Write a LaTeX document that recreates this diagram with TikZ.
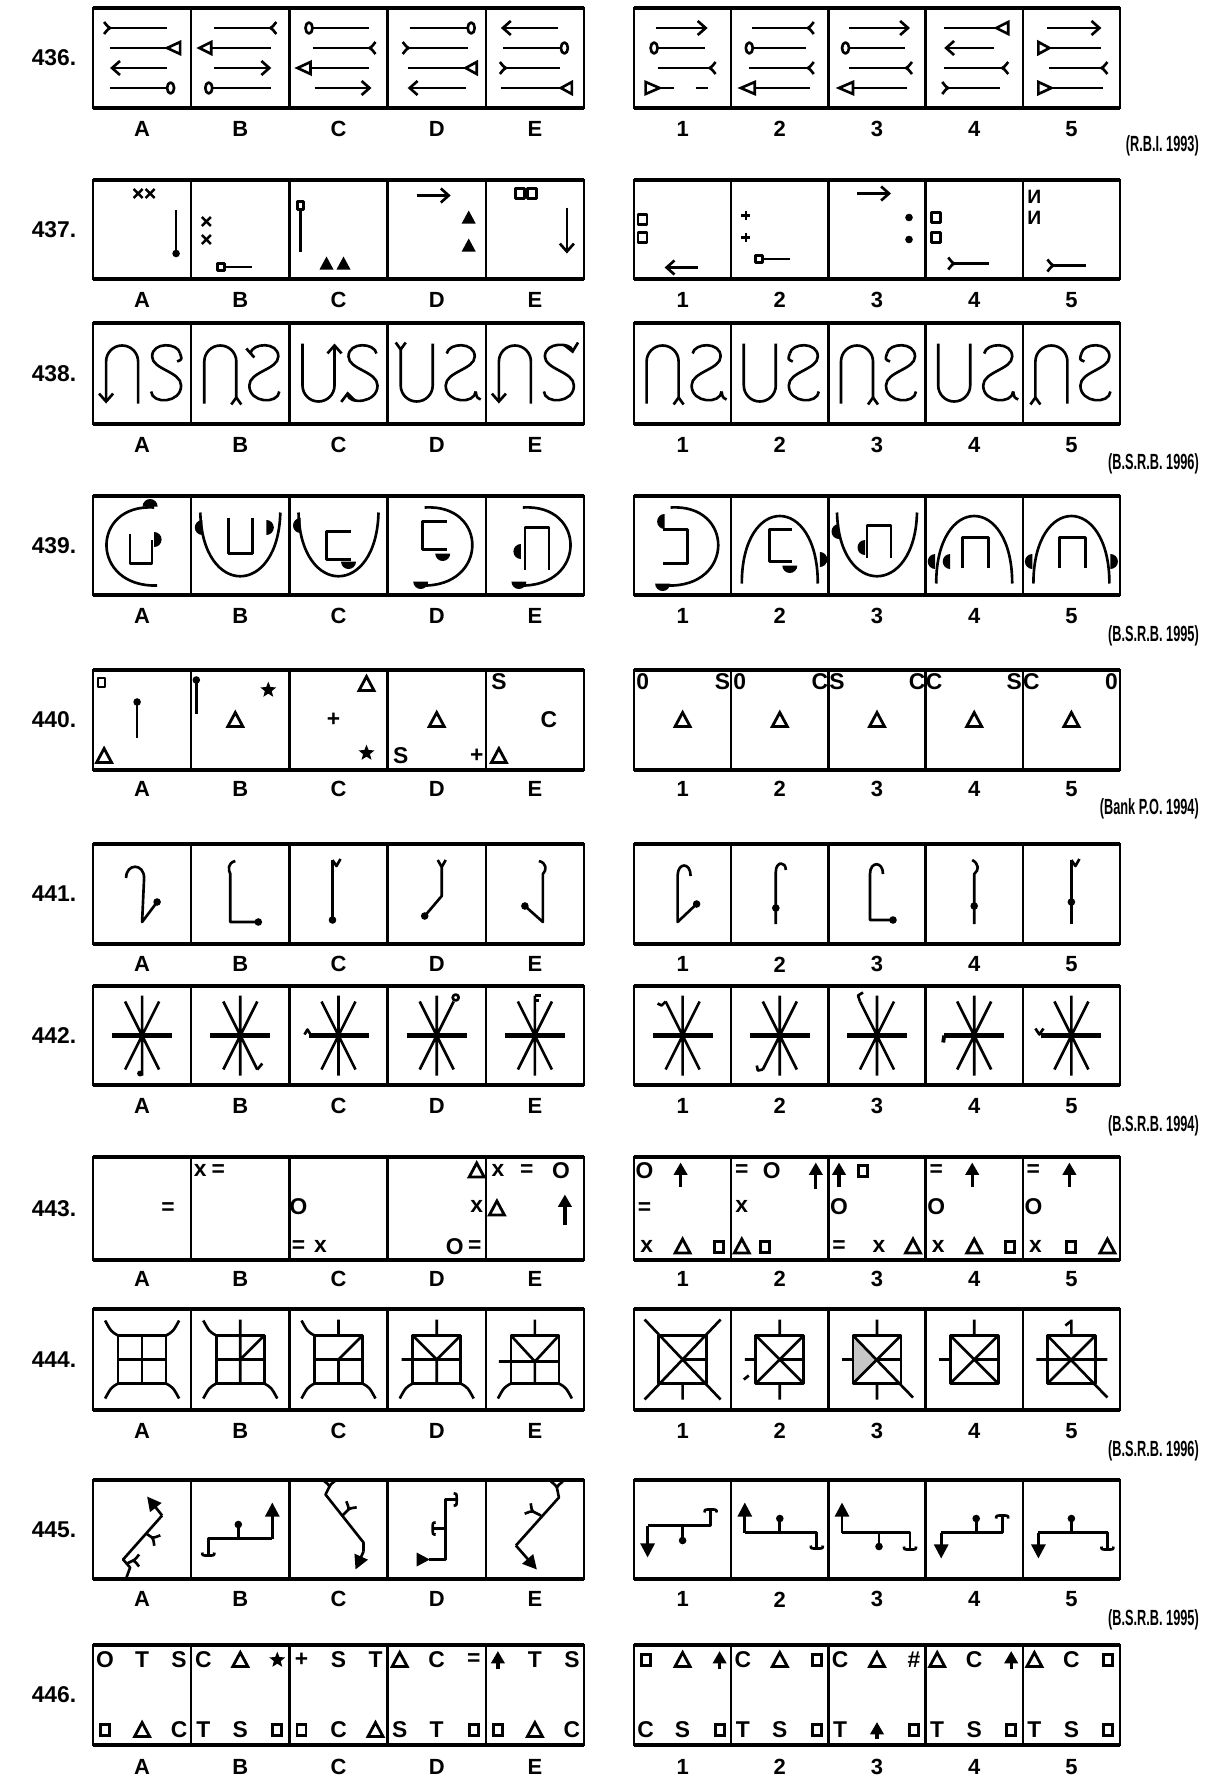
\documentclass[tikz,border=0pt]{standalone}
\usepackage{fontspec}
\setmainfont{Liberation Sans}
\usetikzlibrary{arrows.meta,shapes.geometric}
\newcounter{qn}
\def\qxA{142.1}\def\qxB{240.3}\def\qxC{338.5}\def\qxD{436.7}\def\qxE{534.9}
\def\qxa{682.6}\def\qxb{779.8}\def\qxc{877}\def\qxd{974.2}\def\qxe{1071.4}
\tikzset{
 fig/.style={line width=1.5pt,line join=round},
 frm/.style={line width=1.3pt},
 heavy/.style={line width=2.6pt},
 lab/.style={font=\fontsize{12.5}{14}\selectfont\bfseries,inner sep=0pt},
 num/.style={font=\fontsize{13}{15}\selectfont\bfseries,inner sep=0pt},
 src/.style={font=\fontsize{12.5}{14}\selectfont\bfseries,anchor=east,inner sep=0pt,xscale=0.58},
 txt/.style={font=\fontsize{13}{15}\selectfont\bfseries,inner sep=0pt},
 ar/.style={-{Straight Barb[length=4.5pt,width=8pt]}},
 far/.style={-{Triangle[length=8pt,width=8pt]}},
}
\newcommand\qcell[3]{\begin{scope}[shift={(#1,#2)}]#3\end{scope}}
\newcommand\qfk[3]{\draw[fig,shift={(#1,#2)},rotate=#3] (6,-6) .. controls (2,-1) .. (0,0) .. controls (2,1) .. (6,6);}
\newcommand\qcap[3]{\draw[fig,shift={(#1,#2)},rotate=#3] (-3,-6) .. controls (0,-6) .. (0,0) .. controls (0,6) .. (-3,6);}
\newcommand\qtrih[3]{\draw[fig,line join=miter] (#1,#2) -- ({#1+#3},{#2-6}) -- ({#1+#3},{#2+6}) -- cycle;}
\newcommand\qov[2]{\draw[fig] (#1,#2) ellipse [x radius=3.5,y radius=5.5];}
\newcommand\qcrs[2]{\draw[fig,line width=1.4pt] ({#1-4.5},{#2-4.5})--({#1+4.5},{#2+4.5}) ({#1-4.5},{#2+4.5})--({#1+4.5},{#2-4.5});}
\newcommand\qdot[2]{\fill (#1,#2) circle[radius=3.8];}
\newcommand\qftri[2]{\fill (#1,{#2-7}) -- ({#1+7},{#2+6}) -- ({#1-7},{#2+6}) -- cycle;}
\newcommand\qosq[2]{\draw[fig] ({#1-4.5},{#2-5}) rectangle ({#1+4.5},{#2+5});}
\newcommand\qsq[2]{\draw[line width=1.7pt] ({#1-4.5},{#2-5.5}) rectangle ({#1+4.5},{#2+5.5});}
\newcommand\qpls[2]{\draw[fig,line width=1.4pt] ({#1-4.5},#2)--({#1+4.5},#2) (#1,{#2-4.5})--(#1,{#2+4.5});}
\newcommand\qotri[2]{\draw[fig,line width=1.6pt,line join=miter] (#1,{#2-7.5}) -- ({#1+7.5},{#2+6.5}) -- ({#1-7.5},{#2+6.5}) -- cycle;}
\newcommand\qup[3]{\draw[line width=1.9pt,-{Triangle[length=7pt,width=7.5pt]}] (#1,#3)--(#1,#2);}
\newcommand\qtx[3]{\stepcounter{qn}\node[txt] (q\arabic{qn}) at (#1,#2) {#3};}
\newcommand\qstar[2]{\stepcounter{qn}\node[star,star points=5,star point ratio=2.3,fill,inner sep=0pt,minimum size=9.5pt] (q\arabic{qn}) at (#1,#2) {};}
\newcommand\qhd[3]{\fill[shift={(#1,#2)},rotate=#3] (0,-7.5) arc[start angle=-90,end angle=90,radius=7.5] -- cycle;}
\newcommand\qast{\draw[fig,line width=2.5pt] (-30,0)--(30,0); \draw[fig] (0,-40)--(0,40) (-17,-34)--(17,34) (17,-34)--(-17,34); \fill (0,0) circle[radius=3];}
\newcommand\qsp[2]{\draw[fig] ({24*#1},{24*#2}) .. controls ({31*#1},{28*#2}) .. ({37*#1},{39*#2});}
\newcommand\qbox{\draw[fig] (-24,-24) rectangle (24,24);}
\newcommand\qrow[4]{%
 \draw[frm] (93,#2) rectangle (584,#3);
 \draw[frm] (634,#2) rectangle (1120,#3);
 \draw[heavy] (93,#2)--(584,#2) (93,#3)--(584,#3) (634,#2)--(1120,#2) (634,#3)--(1120,#3);
 \foreach \qx in {191.2,289.4,387.6,485.8,731.2,828.4,925.6,1022.8} \draw[frm] (\qx,#2)--(\qx,#3);
 \node[num] (n#1) at (54,{(#2+#3)/2}) {#1.};
 \foreach \qt/\qx in {A/142.1,B/240.3,C/338.5,D/436.7,E/534.9,1/682.6,2/779.8,3/877,4/974.2,5/1071.4} \node[lab] (l#1\qt) at (\qx,#4) {\qt};
}
\def\qS{(38,-20) .. controls (36,-31) and (10,-32) .. (10,-17) .. controls (10,-4) and (39,-2) .. (39,12) .. controls (39,30) and (10,31) .. (9,18)}
\def\qZ{(10,-20) .. controls (12,-31) and (38,-32) .. (38,-17) .. controls (38,-4) and (9,-2) .. (9,12) .. controls (9,30) and (38,31) .. (39,18)}
\def\qcL{(12,-38) .. controls (-52,-42) and (-52,42) .. (15,40)}
\def\qcR{(-12,-38) .. controls (52,-42) and (52,42) .. (-15,40)}
\def\qcU{(-40,-33) .. controls (-38,52) and (38,52) .. (40,-33)}
\def\qcN{(-38,38) .. controls (-38,-52) and (38,-52) .. (38,38)}
\begin{document}
\begin{tikzpicture}[x=0.02cm,y=-0.02cm]
\fill[white] (0,0) rectangle (1205,1788);
\useasboundingbox (0,0) rectangle (1205,1788);
% ---------- rows frames ----------
\qrow{436}{8}{108}{128.8}
\qrow{437}{180}{279}{299.8}
\qrow{438}{323}{424}{444.6}
\qrow{439}{496}{595}{615.6}
\qrow{440}{670}{770}{788.9}
\qrow{441}{844}{944}{964.4}
\qrow{442}{986}{1085}{1105.8}
\qrow{443}{1157}{1260}{1279}
\qrow{444}{1309}{1410}{1430.7}
\qrow{445}{1480}{1579}{1599.4}
\qrow{446}{1645}{1745}{1767}
\node[src] (s436) at (1199,146) {(R.B.I. 1993)};
\node[src] (s438) at (1199,464) {(B.S.R.B. 1996)};
\node[src] (s439) at (1199,636) {(B.S.R.B. 1995)};
\node[src] (s440) at (1199,809) {(Bank P.O. 1994)};
\node[src] (s442) at (1199,1126) {(B.S.R.B. 1994)};
\node[src] (s444) at (1199,1451) {(B.S.R.B. 1996)};
\node[src] (s445) at (1199,1620) {(B.S.R.B. 1995)};
% ---------- 436 ----------
\qcell{\qxA}{58}{
 \draw[fig] (-32,-30)--(25,-30); \qfk{-32}{-30}{180}
 \draw[fig] (-32,-10)--(25,-10); \qtrih{25}{-10}{13}
 \draw[fig,ar] (25,10)--(-32,10);
 \draw[fig] (-32,30)--(25,30); \qov{28.5}{30}}
\qcell{\qxB}{58}{
 \draw[fig] (-26,-30)--(30,-30); \qfk{30}{-30}{0}
 \qtrih{-41}{-10}{12} \draw[fig] (-29,-10)--(31,-10);
 \draw[fig,ar] (-26,10)--(31,10);
 \qov{-31.5}{30} \draw[fig] (-28,30)--(31,30);}
\qcell{\qxC}{58}{
 \qov{-29.5}{-30} \draw[fig] (-26,-30)--(30,-30);
 \draw[fig] (-26,-10)--(31,-10); \qfk{31}{-10}{0}
 \qtrih{-41}{10}{13} \draw[fig] (-28,10)--(30,10);
 \draw[fig,ar] (-24,30)--(33,30);}
\qcell{\qxD}{58}{
 \draw[fig] (-27,-30)--(31,-30); \qov{34.5}{-30}
 \qfk{-28}{-10}{180} \draw[fig] (-28,-10)--(31,-10);
 \draw[fig] (-29,10)--(29,10); \qtrih{29}{10}{11}
 \draw[fig,ar] (29,30)--(-29,30);}
\qcell{\qxE}{58}{
 \draw[fig,ar] (23,-30)--(-34,-30);
 \draw[fig] (-32,-10)--(26,-10); \qov{29.5}{-10}
 \qfk{-29}{10}{180} \draw[fig] (-29,10)--(25,10);
 \draw[fig] (-34,30)--(26,30); \qtrih{26}{30}{11}}
\qcell{\qxa}{58}{
 \draw[fig,ar] (-27,-30)--(25,-30);
 \qov{-28.5}{-10} \draw[fig] (-25,-10)--(22,-10);
 \draw[fig] (-25,10)--(27,10); \qfk{27}{10}{0}
 \qtrih{-23}{30}{-14} \draw[fig] (-23,30)--(-9,30) (13,30)--(25,30);}
\qcell{\qxb}{58}{
 \draw[fig] (-28,-30)--(28,-30); \qfk{28}{-30}{0}
 \qov{-30.5}{-10} \draw[fig] (-27,-10)--(26,-10);
 \draw[fig] (-31,10)--(28,10); \qfk{28}{10}{0}
 \qtrih{-39}{30}{14} \draw[fig] (-25,30)--(30,30);}
\qcell{\qxc}{58}{
 \draw[fig,ar] (-28,-30)--(33,-30);
 \qov{-31.5}{-10} \draw[fig] (-28,-10)--(28,-10);
 \draw[fig] (-28,10)--(29,10); \qfk{29}{10}{0}
 \qtrih{-38}{30}{14} \draw[fig] (-24,30)--(30,30);}
\qcell{\qxd}{58}{
 \draw[fig] (-30,-30)--(22,-30); \qtrih{22}{-30}{12}
 \draw[fig,ar] (20,-10)--(-30,-10);
 \draw[fig] (-30,10)--(28,10); \qfk{28}{10}{0}
 \qfk{-26}{30}{180} \draw[fig] (-26,30)--(26,30);}
\qcell{\qxe}{58}{
 \draw[fig,ar] (-24,-30)--(30,-30);
 \qtrih{-22}{-10}{-11} \draw[fig] (-22,-10)--(30,-10);
 \draw[fig] (-22,10)--(30,10); \qfk{30}{10}{0}
 \qtrih{-20}{30}{-13} \draw[fig] (-20,30)--(32,30);}
% ---------- 437 ----------
\qcell{\qxA}{229.5}{\qcrs{-4}{-36}\qcrs{8}{-36}\draw[fig] (34,-20)--(34,22);\qdot{34}{24}}
\qcell{\qxB}{229.5}{\qcrs{-34}{-8}\qcrs{-34}{10}\draw[fig] (-23,34) rectangle (-16,41);\draw[fig] (-16,37.5)--(12,37.5);}
\qcell{\qxC}{229.5}{\draw[fig] (-41,-28) rectangle (-35,-20);\draw[fig] (-38,-20)--(-38,22);\qftri{-12}{34}\qftri{5}{34}}
\qcell{\qxD}{229.5}{\draw[fig,ar] (-20,-34)--(14,-34);\qftri{32}{-12}\qftri{32}{16}}
\qcell{\qxE}{229.5}{\qosq{-15}{-36}\qosq{-3}{-36}\draw[fig,ar] (32,-22)--(32,24);}
\qcell{\qxa}{229.5}{\qosq{-40}{-10}\qosq{-40}{8}\draw[fig,ar] (15,38)--(-18,38);}
\qcell{\qxb}{229.5}{\qpls{-34}{-14}\qpls{-34}{8}\draw[fig] (-24,26) rectangle (-17,33);\draw[fig] (-17,29.5)--(10,29.5);}
\qcell{\qxc}{229.5}{\draw[fig,ar] (-20,-36)--(14,-36);\qdot{32}{-12}\qdot{32}{10}}
\qcell{\qxd}{229.5}{\qosq{-38}{-12}\qosq{-38}{8}\qfk{-20}{34}{180}\draw[fig] (-20,34)--(15,34);}
\qcell{\qxe}{229.5}{\stepcounter{qn}\node[txt,font=\fontsize{11}{12}\selectfont\bfseries] (q\arabic{qn}) at (-37,-33) {И};\stepcounter{qn}\node[txt,font=\fontsize{11}{12}\selectfont\bfseries] (q\arabic{qn}) at (-37,-12) {И};\qfk{-18}{36}{180}\draw[fig] (-18,36)--(15,36);}
% ---------- 438 ----------
\qcell{\qxA}{373.5}{
 \draw[fig,ar] (-4,30) -- (-4,-12) arc[start angle=0,end angle=-180,radius=16] -- (-36,30);
 \draw[fig] \qS; \draw[fig] (38,-20) .. controls (40,-14) .. (35,-12);}
\qcell{\qxB}{373.5}{
 \draw[fig] (-36,30) -- (-36,-12) arc[start angle=180,end angle=360,radius=16] -- (-4,24); \draw[fig] (-9,31)--(-4,24)--(1,31);
 \draw[fig] \qZ; \draw[fig] (6,-25)--(14,-16);}
\qcell{\qxC}{373.5}{
 \draw[fig,ar] (-36,-30) -- (-36,12) arc[start angle=180,end angle=0,radius=16] -- (-4,-30);
 \draw[fig,ar] \qS;}
\qcell{\qxD}{373.5}{
 \draw[fig] (-36,-24) -- (-36,12) arc[start angle=180,end angle=0,radius=16] -- (-4,-30); \draw[fig] (-41,-31)--(-36,-24)--(-31,-31);
 \draw[fig] \qZ; \draw[fig] (39,18) .. controls (40,24) .. (44,26);}
\qcell{\qxE}{373.5}{
 \draw[fig,ar] (-4,30) -- (-4,-12) arc[start angle=0,end angle=-180,radius=16] -- (-36,30);
 \draw[fig,{Straight Barb[length=4.5pt,width=8pt]}-] \qS;}
\qcell{\qxa}{373.5}{
 \draw[fig] (-36,30) -- (-36,-12) arc[start angle=180,end angle=360,radius=16] -- (-4,24); \draw[fig] (-9,31)--(-4,24)--(1,31);
 \draw[fig] \qZ; \draw[fig] (39,18) .. controls (40,24) .. (44,26);}
\qcell{\qxb}{373.5}{
 \draw[fig] (-36,-30) -- (-36,12) arc[start angle=180,end angle=0,radius=16] -- (-4,-30);
 \draw[fig] \qZ; \draw[fig] (10,-20) .. controls (8,-14) .. (13,-12);}
\qcell{\qxc}{373.5}{
 \draw[fig] (-36,30) -- (-36,-12) arc[start angle=180,end angle=360,radius=16] -- (-4,24); \draw[fig] (-9,31)--(-4,24)--(1,31);
 \draw[fig] \qZ; \draw[fig] (10,-20) .. controls (8,-14) .. (13,-12);}
\qcell{\qxd}{373.5}{
 \draw[fig] (-36,-30) -- (-36,12) arc[start angle=180,end angle=0,radius=16] -- (-4,-30);
 \draw[fig] \qZ; \draw[fig] (39,18) .. controls (40,24) .. (44,26);}
\qcell{\qxe}{373.5}{
 \draw[fig] (-36,24) -- (-36,-12) arc[start angle=180,end angle=360,radius=16] -- (-4,30); \draw[fig] (-41,31)--(-36,24)--(-31,31);
 \draw[fig] \qZ; \draw[fig] (10,-20) .. controls (8,-14) .. (13,-12);}
% ---------- 439 ----------
\qcell{\qxA}{545.5}{\draw[fig] \qcL; \draw[fig] (-12,-12)--(-12,18)--(10,18)--(10,-6); \qhd{8}{-39}{90} \qhd{12}{-6}{0}}
\qcell{\qxB}{545.5}{\draw[fig] \qcU; \draw[fig] (-12,-28)--(-12,8)--(12,8)--(12,-28); \qhd{-38}{-18}{180} \qhd{26}{-18}{0}}
\qcell{\qxC}{545.5}{\draw[fig] \qcU; \draw[fig] (12,-14)--(-12,-14)--(-12,14)--(12,14); \qhd{-38}{-20}{180} \qhd{10}{16}{-90}}
\qcell{\qxD}{545.5}{\draw[fig] \qcR; \draw[fig] (10,-24)--(-14,-24)--(-14,4)--(10,4); \qhd{6}{8}{-90} \qhd{-16}{36}{-90}}
\qcell{\qxE}{545.5}{\draw[fig] \qcR; \draw[fig] (-10,24)--(-10,-18)--(14,-18)--(14,24); \qhd{-14}{6}{180} \qhd{-16}{36}{-90}}
\qcell{\qxa}{545.5}{\draw[fig] \qcR; \draw[fig] (-20,-16)--(5,-16)--(5,18)--(-20,18); \qhd{-18}{-24}{180} \qhd{-20}{38}{-90}}
\qcell{\qxb}{545.5}{\draw[fig] \qcN; \draw[fig] (12,-16)--(-10,-16)--(-10,16)--(12,16); \qhd{40}{14}{0} \qhd{10}{20}{-90}}
\qcell{\qxc}{545.5}{\draw[fig] \qcU; \draw[fig] (-10,12)--(-10,-20)--(14,-20)--(14,12); \qhd{-38}{-14}{180} \qhd{-12}{2}{180}}
\qcell{\qxd}{545.5}{\draw[fig] \qcN; \draw[fig] (-12,22)--(-12,-8)--(14,-8)--(14,22); \qhd{-39}{16}{180} \qhd{-24}{16}{180}}
\qcell{\qxe}{545.5}{\draw[fig] \qcN; \draw[fig] (-12,22)--(-12,-8)--(14,-8)--(14,22); \qhd{-39}{16}{180} \qhd{39}{16}{0}}
% ---------- 440 ----------
\qcell{\qxA}{720}{\draw[fig] (-44,-42) rectangle (-37,-33); \qdot{-5}{-18} \draw[fig] (-5,-18)--(-5,18); \qotri{-38}{36}}
\qcell{\qxB}{720}{\qdot{-44}{-40} \draw[fig] (-44,-40)--(-44,-6); \qstar{28}{-30} \qotri{-5}{0}}
\qcell{\qxC}{720}{\qotri{28}{-36} \qtx{-5}{0}{+} \qstar{28}{33}}
\qcell{\qxD}{720}{\qotri{0}{0} \qtx{-36}{36}{S} \qtx{40}{36}{+}}
\qcell{\qxE}{720}{\qtx{-36}{-38}{S} \qtx{14}{0}{C} \qotri{-36}{36}}
\qcell{\qxa}{720}{\qtx{-40}{-38}{0} \qtx{40}{-38}{S} \qotri{0}{0}}
\qcell{\qxb}{720}{\qtx{-40}{-38}{0} \qtx{40}{-38}{C} \qotri{0}{0}}
\qcell{\qxc}{720}{\qtx{-40}{-38}{S} \qtx{40}{-38}{C} \qotri{0}{0}}
\qcell{\qxd}{720}{\qtx{-40}{-38}{C} \qtx{40}{-38}{S} \qotri{0}{0}}
\qcell{\qxe}{720}{\qtx{-40}{-38}{C} \qtx{40}{-38}{0} \qotri{0}{0}}
% ---------- 441 ----------
\qcell{\qxA}{894}{\draw[fig] (-16,-16) .. controls (-16,-31) and (2,-31) .. (2,-16) -- (0,28) -- (15,8); \qdot{15}{8}}
\qcell{\qxB}{894}{\draw[fig] (-5,-33) .. controls (-13,-31) and (-12,-24) .. (-10,-20) -- (-10,28) -- (18,28); \qdot{18}{28}}
\qcell{\qxC}{894}{\draw[fig] (-6,-34)--(-6,26); \draw[fig] (-6,-34)--(-2,-28)--(2,-35); \qdot{-6}{26}}
\qcell{\qxD}{894}{\draw[fig] (1,-34) -- (5,-27) -- (9,-34) (5,-27) -- (5,2) -- (-12,22); \qdot{-12}{22}}
\qcell{\qxE}{894}{\draw[fig] (4,-33) .. controls (12,-31) and (12,-24) .. (8,-20) -- (8,28) -- (-10,12); \qdot{-10}{12}}
\qcell{\qxa}{894}{\draw[fig] (8,-18) .. controls (8,-32) and (-5,-32) .. (-5,-18) -- (-5,28) -- (14,10); \qdot{14}{10}}
\qcell{\qxb}{894}{\draw[fig] (6,-24) .. controls (6,-33) and (-4,-33) .. (-4,-22) -- (-4,30); \qdot{-4}{14}}
\qcell{\qxc}{894}{\draw[fig] (6,-20) .. controls (6,-33) and (-7,-33) .. (-7,-20) -- (-7,26) -- (16,26); \qdot{16}{26}}
\qcell{\qxd}{894}{\draw[fig] (-2,-34) .. controls (5,-30) and (5,-24) .. (0,-20) -- (0,30); \qdot{0}{12}}
\qcell{\qxe}{894}{\draw[fig] (0,-34)--(0,30); \draw[fig] (0,-34)--(4,-28)--(8,-35); \qdot{0}{8}}
% ---------- 442 ----------
\qcell{\qxA}{1035.5}{\qast \fill (-2,38) circle[radius=3];}
\qcell{\qxB}{1035.5}{\qast \draw[fig] (17,34)--(22,28);}
\qcell{\qxC}{1035.5}{\qast \draw[fig] (-34,-1)--(-31,-6)--(-28,-1);}
\qcell{\qxD}{1035.5}{\qast \draw[fig] (19,-38) circle[radius=3];}
\qcell{\qxE}{1035.5}{\qast \draw[fig] (0,-40)--(6,-40) (0,-35)--(4,-35);}
\qcell{\qxa}{1035.5}{\qast \draw[fig] (-17,-34)--(-21,-30)--(-25,-32);}
\qcell{\qxb}{1035.5}{\qast \draw[fig] (-17,34)--(-22,35)--(-23,30);}
\qcell{\qxc}{1035.5}{\qast \draw[fig] (-17,-34)--(-19,-40)--(-14,-43);}
\qcell{\qxd}{1035.5}{\qast \draw[fig,line width=2.2pt] (-30,0)--(-31,7);}
\qcell{\qxe}{1035.5}{\qast \draw[fig] (-36,-7)--(-32,-1)--(-28,-7);}
% ---------- 443 ----------
\qcell{\qxA}{1208.5}{\qtx{26}{0}{=}}
\qcell{\qxB}{1208.5}{\qtx{-40}{-38}{x}\qtx{-22}{-38}{=}}
\qcell{\qxC}{1208.5}{\qtx{-40}{-2}{O}\qtx{-40}{38}{=}\qtx{-18}{38}{x}}
\qcell{\qxD}{1208.5}{\qotri{40}{-38}\qtx{40}{-2}{x}\qtx{18}{38}{O}\qtx{38}{38}{=}}
\qcell{\qxE}{1208.5}{\qtx{-37}{-38}{x}\qtx{-8}{-38}{=}\qtx{26}{-38}{O}\qotri{-38}{0}\qup{30}{-14}{16}}
\qcell{\qxa}{1208.5}{\qtx{-38}{-38}{O}\qup{-2}{-46}{-22}\qtx{-38}{0}{=}\qtx{-36}{38}{x}\qotri{0}{38}\qsq{36}{38}}
\qcell{\qxb}{1208.5}{\qtx{-38}{-38}{=}\qtx{-8}{-38}{O}\qup{36}{-46}{-20}\qtx{-38}{-2}{x}\qotri{-38}{38}\qsq{-15}{38}}
\qcell{\qxc}{1208.5}{\qup{-38}{-46}{-22}\qsq{-14}{-38}\qtx{-38}{-2}{O}\qtx{-38}{38}{=}\qtx{2}{38}{x}\qotri{36}{38}}
\qcell{\qxd}{1208.5}{\qtx{-38}{-38}{=}\qup{-2}{-46}{-22}\qtx{-38}{-2}{O}\qtx{-36}{38}{x}\qotri{0}{38}\qsq{36}{38}}
\qcell{\qxe}{1208.5}{\qtx{-38}{-38}{=}\qup{-2}{-46}{-22}\qtx{-38}{-2}{O}\qtx{-36}{38}{x}\qsq{0}{38}\qotri{36}{38}}
% ---------- 444 ----------
\qcell{\qxA}{1359.5}{\qbox \draw[fig] (0,-24)--(0,24) (-24,0)--(24,0); \qsp{-1}{-1}\qsp{1}{-1}\qsp{-1}{1}\qsp{1}{1}}
\qcell{\qxB}{1359.5}{\qbox \draw[fig] (0,-40)--(0,24) (-24,0)--(24,0) (24,-24)--(0,0); \qsp{-1}{-1}\qsp{-1}{1}\qsp{1}{1}}
\qcell{\qxC}{1359.5}{\qbox \draw[fig] (0,-40)--(0,-24) (0,0)--(0,24) (-24,0)--(24,0) (24,-24)--(0,0); \qsp{-1}{-1}\qsp{-1}{1}\qsp{1}{1}}
\qcell{\qxD}{1359.5}{\qbox \draw[fig] (0,-40)--(0,-24) (-24,-24)--(0,0)--(24,-24) (0,0)--(0,24) (-35,0)--(24,0); \qsp{-1}{1}\qsp{1}{1}}
\qcell{\qxE}{1359.5}{\qbox \draw[fig] (0,-40)--(0,-24) (-24,-24)--(0,2)--(24,-24) (0,2)--(0,24) (-36,2)--(24,2); \qsp{-1}{1}\qsp{1}{1}}
\qcell{\qxa}{1359.5}{\qbox \draw[fig] (-38,-40)--(38,40) (38,-40)--(-38,40) (0,0)--(24,0) (0,24)--(0,40);}
\qcell{\qxb}{1359.5}{\qbox \draw[fig] (0,-40)--(0,-24) (-35,0)--(-24,0) (-24,-24)--(24,24) (24,-24)--(-24,24) (0,0)--(24,0) (0,24)--(0,40) (-36,20)--(-31,16);}
\qcell{\qxc}{1359.5}{\fill[gray!45] (-24,-24)--(0,0)--(-24,24)--cycle; \qbox \draw[fig] (0,-40)--(0,-24) (-35,0)--(-24,0) (-24,-24)--(36,38) (24,-24)--(-24,24) (0,24)--(0,40) (0,0)--(24,0);}
\qcell{\qxd}{1359.5}{\qbox \draw[fig] (0,-40)--(0,-24) (-35,0)--(-24,0) (-24,-24)--(24,24) (24,-24)--(-24,24) (0,0)--(24,0);}
\qcell{\qxe}{1359.5}{\qbox \draw[fig] (0,-40)--(0,-24) (-6,-34)--(-1,-38) (-35,0)--(36,0) (-24,-24)--(36,38) (24,-24)--(-24,24);}
% ---------- 445 ----------
\qcell{\qxA}{1529.5}{\draw[fig,far] (20,-14) -- (5,-33); \draw[fig] (20,-14) -- (-19,30) -- (-12,38) -- (-16,49); \draw[fig] (4,4)--(10,8); \qfk{10}{8}{-30} \draw[fig] (-15,34)--(-9,31); \qfk{-9}{31}{0}}
\qcell{\qxB}{1529.5}{\qcap{-32}{26}{-90} \draw[fig] (-32,26)--(-32,9)--(32,9); \draw[fig,far] (32,9)--(32,-27); \draw[fig] (-2,9)--(-2,-4); \qdot{-2}{-5}}
\qcell{\qxC}{1529.5}{\qfk{-9}{-43}{90} \draw[fig] (-9,-43)--(-13,-35)--(25,13)--(25,22); \draw[fig,far] (25,22)--(17,40); \draw[fig] (4,-14)--(10,-20); \qfk{10}{-20}{60}}
\qcell{\qxD}{1529.5}{\draw[fig] (20,-30)--(9,-30)--(9,30)--(-8,30); \qcap{20}{-30}{0} \fill (-20,23)--(-7,30)--(-20,37)--cycle; \draw[fig] (9,-1)--(-4,-1); \qcap{-4}{-1}{180}}
\qcell{\qxE}{1529.5}{\qfk{22}{-42}{90} \draw[fig] (22,-42)--(24,-32)--(-19,16); \draw[fig,far] (-19,16)--(2,40); \draw[fig] (6,-14)--(-2,-18); \qfk{-2}{-18}{150}}
\qcell{\qxa}{1529.5}{\draw[fig,far] (-35,-4)--(-35,28); \draw[fig] (-35,-4)--(28,-4)--(28,-20); \qcap{28}{-20}{90} \draw[fig] (0,-4)--(0,10); \qdot{0}{11}}
\qcell{\qxb}{1529.5}{\draw[fig,far] (-35,3)--(-35,-27); \draw[fig] (-35,3)--(37,3)--(37,19); \qcap{37}{19}{-90} \draw[fig] (0,3)--(0,-10); \qdot{0}{-11}}
\qcell{\qxc}{1529.5}{\draw[fig,far] (-35,3)--(-35,-27); \draw[fig] (-35,3)--(33,3)--(33,20); \qcap{33}{20}{-90} \draw[fig] (2,3)--(2,16); \qdot{2}{17}}
\qcell{\qxd}{1529.5}{\draw[fig,far] (-33,3)--(-33,29); \draw[fig] (-33,3)--(28,3)--(28,-14); \qcap{28}{-14}{90} \draw[fig] (2,3)--(2,-10); \qdot{2}{-11}}
\qcell{\qxe}{1529.5}{\draw[fig,far] (-33,3)--(-33,29); \draw[fig] (-33,3)--(36,3)--(36,20); \qcap{36}{20}{-90} \draw[fig] (0,3)--(0,-10); \qdot{0}{-11}}
% ---------- 446 ----------
\qcell{\qxA}{1695}{\qtx{-37}{-35}{O}\qtx{0}{-35}{T}\qtx{37}{-35}{S}\qsq{-37}{35}\qotri{0}{35}\qtx{37}{35}{C}}
\qcell{\qxB}{1695}{\qtx{-37}{-35}{C}\qotri{0}{-35}\qstar{37}{-35}\qtx{-37}{35}{T}\qtx{0}{35}{S}\qsq{37}{35}}
\qcell{\qxC}{1695}{\qtx{-37}{-35}{+}\qtx{0}{-35}{S}\qtx{37}{-35}{T}\qsq{-37}{35}\qtx{0}{35}{C}\qotri{37}{35}}
\qcell{\qxD}{1695}{\qotri{-37}{-35}\qtx{0}{-35}{C}\qtx{37}{-35}{=}\qtx{-37}{35}{S}\qtx{0}{35}{T}\qsq{37}{35}}
\qcell{\qxE}{1695}{\qup{-37}{-44}{-26}\qtx{0}{-35}{T}\qtx{37}{-35}{S}\qsq{-37}{35}\qotri{0}{35}\qtx{37}{35}{C}}
\qcell{\qxa}{1695}{\qsq{-37}{-35}\qotri{0}{-35}\qup{37}{-44}{-26}\qtx{-37}{35}{C}\qtx{0}{35}{S}\qsq{37}{35}}
\qcell{\qxb}{1695}{\qtx{-37}{-35}{C}\qotri{0}{-35}\qsq{37}{-35}\qtx{-37}{35}{T}\qtx{0}{35}{S}\qsq{37}{35}}
\qcell{\qxc}{1695}{\qtx{-37}{-35}{C}\qotri{0}{-35}\qtx{37}{-35}{\#}\qtx{-37}{35}{T}\qup{0}{27}{44}\qsq{37}{35}}
\qcell{\qxd}{1695}{\qotri{-37}{-35}\qtx{0}{-35}{C}\qup{37}{-44}{-26}\qtx{-37}{35}{T}\qtx{0}{35}{S}\qsq{37}{35}}
\qcell{\qxe}{1695}{\qotri{-37}{-35}\qtx{0}{-35}{C}\qsq{37}{-35}\qtx{-37}{35}{T}\qtx{0}{35}{S}\qsq{37}{35}}
\end{tikzpicture}
\end{document}
